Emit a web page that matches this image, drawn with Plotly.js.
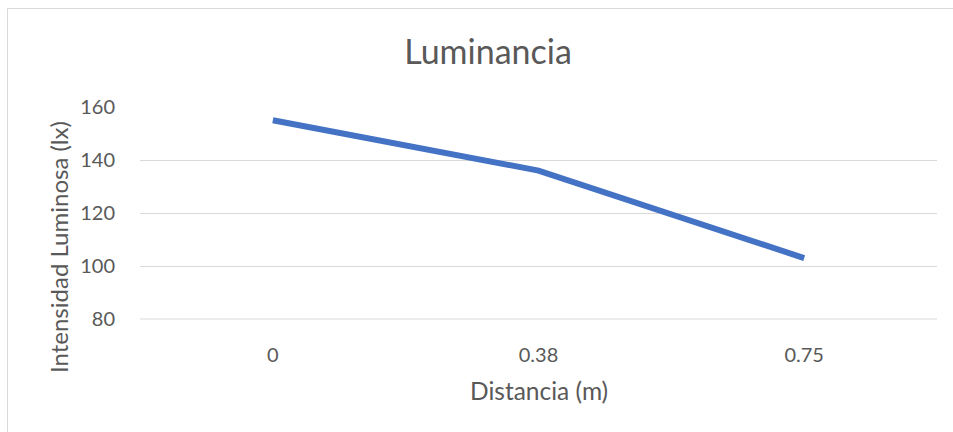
<!DOCTYPE html>
<html>
<head>
<meta charset="utf-8">
<script src="https://cdn.plot.ly/plotly-3.0.1.min.js"></script>
<style>
html,body{margin:0;padding:0;background:#fff;}
#chart{width:953px;height:432px;}
</style>
</head>
<body>
<div id="chart"></div>
<script>
const categories = ['0', '0.38', '0.75'];
const luminance = [155, 136, 103];
const yTickValues = [80, 100, 120, 140, 160];
const chartTitle = 'Luminancia';
const xTitle = 'Distancia (m)';
const yTitle = 'Intensidad Luminosa (lx)';

const textColor = '#595959';
const fontFamily = 'Lato, "Open Sans", sans-serif';

const trace = {
  x: categories,
  y: luminance,
  type: 'scatter',
  mode: 'lines',
  line: {color: '#4472C4', width: 6, shape: 'linear'},
  hoverinfo: 'x+y'
};

const layout = {
  width: 953,
  height: 432,
  margin: {l: 140, r: 16, t: 107, b: 113},
  paper_bgcolor: '#ffffff',
  plot_bgcolor: '#ffffff',
  showlegend: false,
  font: {family: fontFamily, color: textColor},
  title: {
    text: chartTitle,
    font: {family: fontFamily, size: 34, color: textColor},
    x: 488 / 953,
    xanchor: 'center',
    xref: 'container',
    y: 1 - 52 / 432,
    yanchor: 'middle',
    yref: 'container'
  },
  xaxis: {
    type: 'category',
    range: [-0.5, 2.5],
    showgrid: false,
    zeroline: false,
    showline: false,
    ticks: 'outside',
    ticklen: 18,
    tickcolor: 'rgba(0,0,0,0)',
    tickfont: {family: fontFamily, size: 20, color: textColor},
    fixedrange: true
  },
  yaxis: {
    range: [80, 160],
    tickvals: yTickValues,
    ticktext: yTickValues.map(String),
    showgrid: true,
    gridcolor: '#D9D9D9',
    gridwidth: 1,
    zeroline: false,
    showline: false,
    ticks: 'outside',
    ticklen: 20,
    tickcolor: 'rgba(0,0,0,0)',
    tickfont: {family: fontFamily, size: 20, color: textColor},
    fixedrange: true
  },
  annotations: [
    {
      text: xTitle,
      xref: 'paper', yref: 'paper',
      x: 0.5, y: (319 - 390) / 212,
      xanchor: 'center', yanchor: 'middle',
      showarrow: false,
      font: {family: fontFamily, size: 24.5, color: textColor}
    },
    {
      text: yTitle,
      xref: 'paper', yref: 'paper',
      x: (58 - 140) / 797, y: (319 - 247) / 212,
      xanchor: 'center', yanchor: 'middle',
      textangle: -90,
      showarrow: false,
      font: {family: fontFamily, size: 24, color: textColor}
    }
  ],
  shapes: [
    {
      type: 'line',
      xref: 'paper', yref: 'paper',
      x0: 0, x1: 1, y0: 0, y1: 0,
      line: {color: '#D9D9D9', width: 1},
      layer: 'below'
    },
    {
      type: 'rect',
      xref: 'paper', yref: 'paper',
      x0: (7.5 - 140) / 797, x1: 1.2,
      y0: -1.5, y1: (319 - 8.5) / 212,
      line: {color: '#D9D9D9', width: 1},
      fillcolor: 'rgba(0,0,0,0)',
      layer: 'below'
    }
  ]
};

Plotly.newPlot('chart', [trace], layout, {displayModeBar: false, staticPlot: true});
</script>
</body>
</html>
